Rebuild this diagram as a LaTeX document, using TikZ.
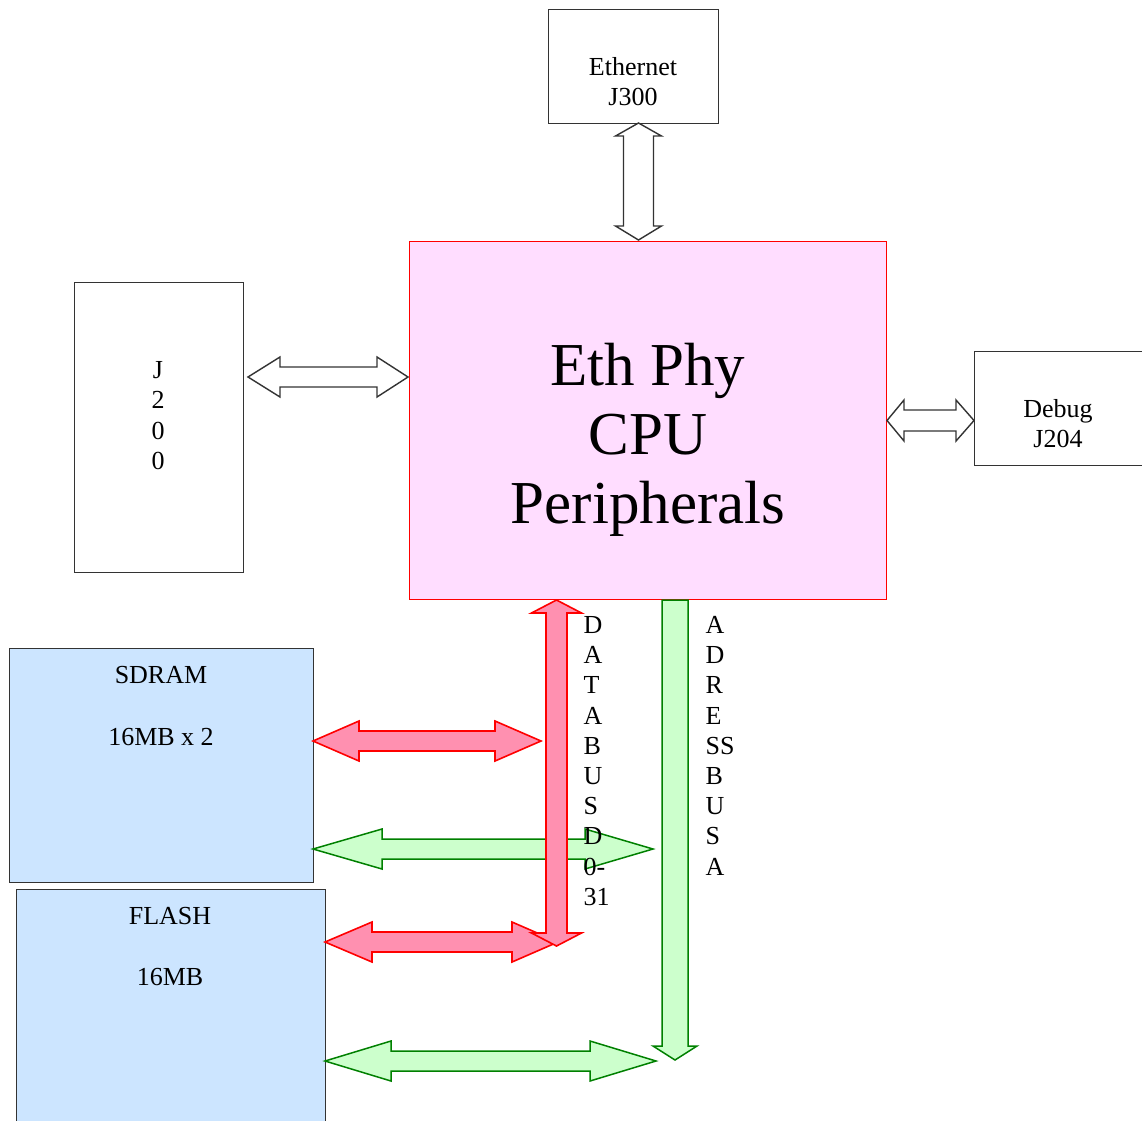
\documentclass[tikz,border=0pt]{standalone}
\usepackage{fontspec}
\setmainfont{Liberation Serif}
\definecolor{pinkbox}{HTML}{FFDDFF}
\definecolor{bluebox}{HTML}{CCE5FF}
\definecolor{redfill}{HTML}{FF90B0}
\definecolor{greenfill}{HTML}{CCFFCC}
\definecolor{greenline}{HTML}{008000}
\definecolor{grayline}{HTML}{333333}
% horizontal double block arrow: style, x-left tip, x-right tip, y, headlen left, headlen right, head half, shaft half
\newcommand{\HArrow}[8]{\draw[#1] (#2,#4) -- (#2+#5,#4-#7) -- (#2+#5,#4-#8) -- (#3-#6,#4-#8) -- (#3-#6,#4-#7) -- (#3,#4) -- (#3-#6,#4+#7) -- (#3-#6,#4+#8) -- (#2+#5,#4+#8) -- (#2+#5,#4+#7) -- cycle;}
% vertical double block arrow: style, x, y top tip, y bottom tip, headlen top, headlen bottom, head half, shaft half
\newcommand{\VArrow}[8]{\draw[#1] (#2,#3) -- (#2+#7,#3+#5) -- (#2+#8,#3+#5) -- (#2+#8,#4-#6) -- (#2+#7,#4-#6) -- (#2,#4) -- (#2-#7,#4-#6) -- (#2-#8,#4-#6) -- (#2-#8,#3+#5) -- (#2-#7,#3+#5) -- cycle;}
\tikzset{
  boxw/.style={draw=grayline, line width=1pt, fill=white, inner sep=0pt, anchor=north west},
  boxp/.style={draw=red, line width=1pt, fill=pinkbox, inner sep=0pt, anchor=north west},
  boxb/.style={draw=grayline, line width=1pt, fill=bluebox, inner sep=0pt, anchor=north west},
  lbl/.style={font=\fontsize{26}{30}\selectfont, inner sep=0pt, anchor=base},
  lblv/.style={font=\fontsize{26}{30}\selectfont, inner sep=0pt, anchor=base west},
  big/.style={font=\fontsize{61}{70}\selectfont, inner sep=0pt, anchor=base},
  arrk/.style={draw=grayline, line width=1.4pt, fill=white, line join=miter},
  arrr/.style={draw=red, line width=1.6pt, fill=redfill, line join=miter},
  arrg/.style={draw=greenline, line width=1.5pt, fill=greenfill, line join=miter}
}
\begin{document}
\begin{tikzpicture}[x=1pt, y=-1pt]
\useasboundingbox (0,0) rectangle (1142,1120);
\clip (0,0) rectangle (1142,1120);
\fill[white] (0,0) rectangle (1142,1120);
% boxes
\node[boxw, minimum width=170pt, minimum height=114pt] (eth) at (548,9) {};
\node[boxp, minimum width=477pt, minimum height=358pt] (cpu) at (409,241) {};
\node[boxw, minimum width=169pt, minimum height=290pt] (j200) at (74,282) {};
\node[boxw, minimum width=180pt, minimum height=114pt] (dbg) at (974,351) {};
\node[boxb, minimum width=304pt, minimum height=234pt] (sdram) at (9,648) {};
\node[boxb, minimum width=309pt, minimum height=245pt] (flash) at (16,889) {};
% black arrows
\VArrow{arrk}{638.5}{123}{240}{13}{14}{23}{15}
\HArrow{arrk}{248}{408}{377}{32}{31}{20}{10}
\HArrow{arrk}{887}{974}{420.5}{17}{18}{20.5}{10.5}
% green horizontal arrows
\HArrow{arrg}{313}{653}{849}{69}{68}{20}{10}
\HArrow{arrg}{325}{656}{1061}{66}{66}{20}{10}
% address bus
\draw[arrg] (662,600) -- (688,600) -- (688,1046) -- (697,1046) -- (675,1060) -- (653,1046) -- (662,1046) -- cycle;
% red arrows
\HArrow{arrr}{313}{541}{741}{46}{46}{20}{10}
\HArrow{arrr}{325}{558}{942}{47}{46}{20}{10}
\VArrow{arrr}{556.5}{600}{946}{13}{13}{25}{10.5}
% texts
\node[lbl] (t1) at (633,75.5) {Ethernet};
\node[lbl] (t2) at (633,105.5) {J300};
\node[lbl] (t3) at (1058,417.5) {Debug};
\node[lbl] (t4) at (1058,447.5) {J204};
\node[lbl] (t5) at (161,683.5) {SDRAM};
\node[lbl] (t6) at (161,745) {16MB x 2};
\node[lbl] (t7) at (170,924.5) {FLASH};
\node[lbl] (t8) at (170,985.5) {16MB};
\node[big] (m1) at (648,385) {Eth Phy};
\node[big] (m2) at (648,454) {CPU};
\node[big] (m3) at (648,523) {Peripherals};
\foreach \c [count=\i from 0] in {J,2,0,0}
  \node[lbl] (jv\i) at (158,378.5+30.4*\i) {\c};
\foreach \c [count=\i from 0] in {D,A,T,A,B,U,S,D,0-,31}
  \node[lblv] (dv\i) at (583.5,633.5+30.2*\i) {\c};
\foreach \c [count=\i from 0] in {A,D,R,E,SS,B,U,S,A}
  \node[lblv] (av\i) at (705.5,633.5+30.2*\i) {\c};
\end{tikzpicture}
\end{document}
